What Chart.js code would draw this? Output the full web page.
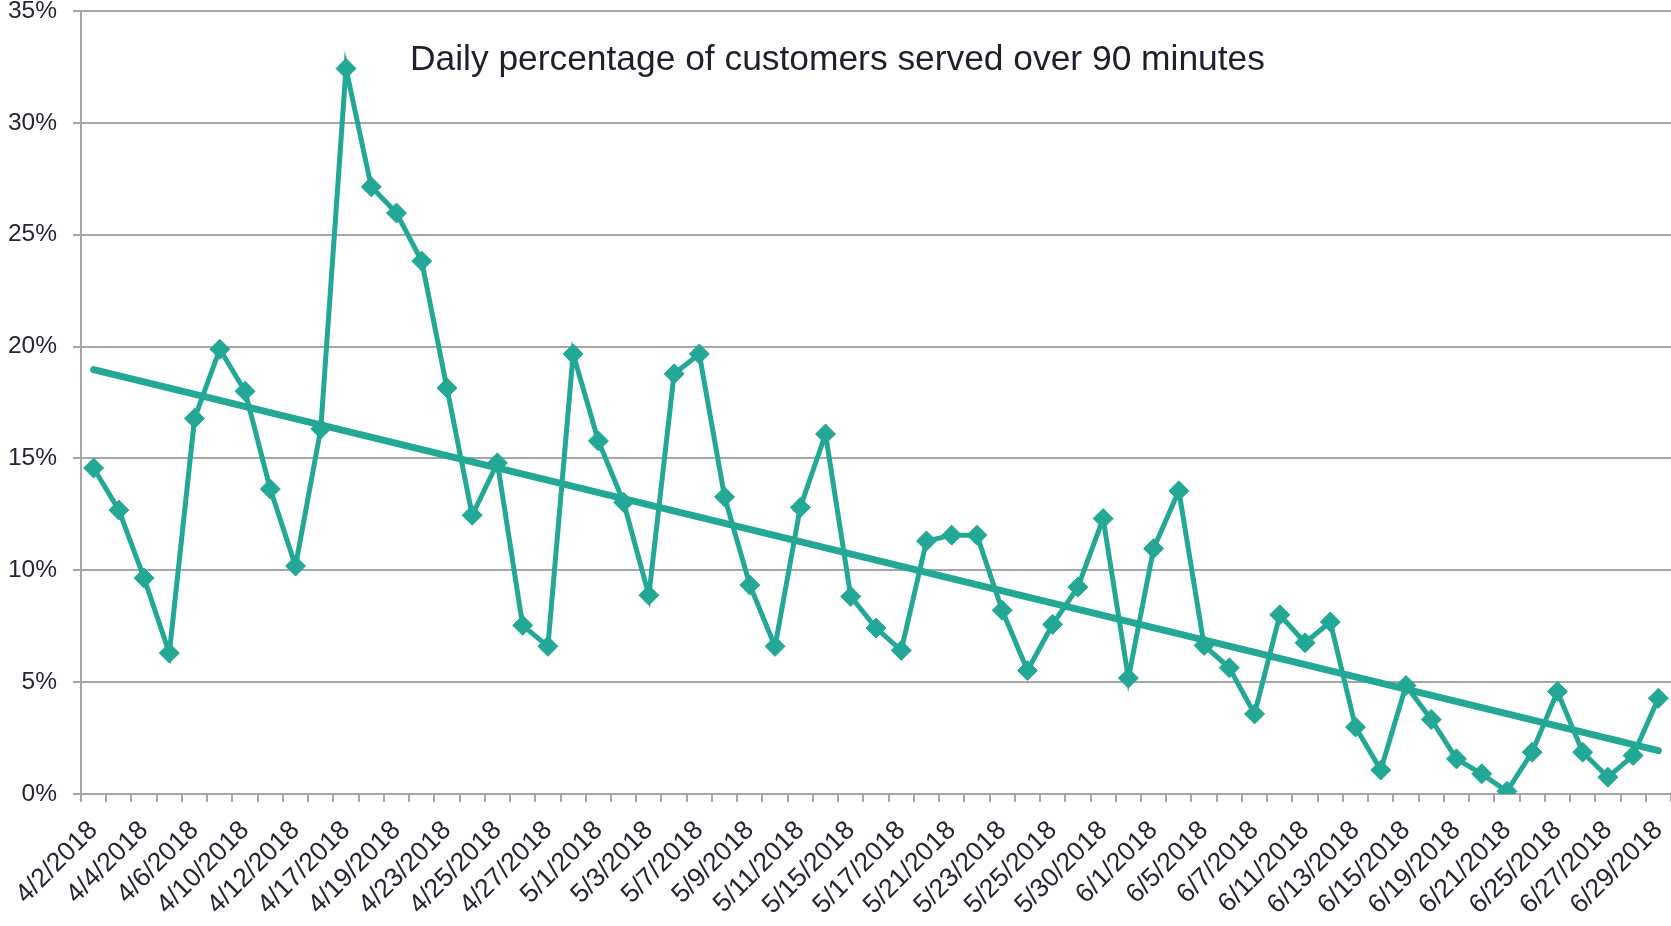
<!DOCTYPE html>
<html>
<head>
<meta charset="utf-8">
<script src="https://cdn.jsdelivr.net/npm/chart.js@4.4.1/dist/chart.umd.min.js"></script>
<style>
html,body{margin:0;padding:0;background:#ffffff;overflow:hidden}
#wrap{position:relative;width:1671px;height:926px}
</style>
</head>
<body>
<div id="wrap"><canvas id="c" width="1671" height="926"></canvas></div>
<script>
// ---- data ----
const categories = [
  "4/2/2018","4/3/2018","4/4/2018","4/5/2018","4/6/2018","4/9/2018","4/10/2018","4/11/2018","4/12/2018","4/13/2018",
  "4/17/2018","4/18/2018","4/19/2018","4/20/2018","4/23/2018","4/24/2018","4/25/2018","4/26/2018","4/27/2018","4/30/2018",
  "5/1/2018","5/2/2018","5/3/2018","5/4/2018","5/7/2018","5/8/2018","5/9/2018","5/10/2018","5/11/2018","5/14/2018",
  "5/15/2018","5/16/2018","5/17/2018","5/18/2018","5/21/2018","5/22/2018","5/23/2018","5/24/2018","5/25/2018","5/29/2018",
  "5/30/2018","5/31/2018","6/1/2018","6/4/2018","6/5/2018","6/6/2018","6/7/2018","6/8/2018","6/11/2018","6/12/2018",
  "6/13/2018","6/14/2018","6/15/2018","6/18/2018","6/19/2018","6/20/2018","6/21/2018","6/22/2018","6/25/2018","6/26/2018",
  "6/27/2018","6/28/2018","6/29/2018"
];
const dailyPercent = [
  14.57,12.69,9.65,6.30,16.79,19.88,18.00,13.63,10.19,16.32,
  32.43,27.14,25.97,23.82,18.15,12.46,14.80,7.54,6.60,19.67,
  15.78,13.04,8.88,18.78,19.67,13.28,9.34,6.60,12.81,16.09,
  8.83,7.42,6.42,11.31,11.57,11.57,8.21,5.52,7.58,9.25,
  12.31,5.18,10.97,13.55,6.64,5.64,3.58,8.01,6.76,7.69,
  2.99,1.07,4.85,3.33,1.57,0.90,0.12,1.87,4.58,1.87,
  0.75,1.72,4.28
];
const trendStartEnd = [18.97, 1.94];
const yTickValues = [0, 5, 10, 15, 20, 25, 30, 35];
const titleText = "Daily percentage of customers served over 90 minutes";

// ---- styles ----
const teal = "#22a895";
const gridGray = "#a6a6a6";
const labelColor = "#262632";

const insideTitle = {
  id: "insideTitle",
  afterDraw(chart) {
    const ctx = chart.ctx;
    const a = chart.chartArea;
    ctx.save();
    ctx.font = '33px "Liberation Sans", Arial, sans-serif';
    const w = ctx.measureText(titleText).width;
    const size = 33 * 855 / w;
    ctx.font = size.toFixed(2) + 'px "Liberation Sans", Arial, sans-serif';
    ctx.fillStyle = "#1f1f2b";
    ctx.textAlign = "left";
    ctx.textBaseline = "alphabetic";
    ctx.fillText(titleText, a.left + 329, a.top + 58.5);
    ctx.restore();
  }
};

new Chart(document.getElementById("c"), {
  type: "line",
  data: {
    labels: categories,
    datasets: [
      {
        label: "Daily %",
        data: dailyPercent,
        borderColor: teal,
        backgroundColor: teal,
        borderWidth: 5,
        pointStyle: "rectRot",
        pointRadius: 10,
        pointBorderWidth: 1,
        pointBackgroundColor: teal,
        pointBorderColor: teal,
        tension: 0,
        fill: false
      },
      {
        label: "Trend",
        data: [
          { x: categories[0], y: trendStartEnd[0] },
          { x: categories[categories.length - 1], y: trendStartEnd[1] }
        ],
        borderColor: teal,
        borderWidth: 7,
        borderCapStyle: "round",
        pointRadius: 0,
        tension: 0,
        fill: false
      }
    ]
  },
  options: {
    responsive: false,
    animation: false,
    devicePixelRatio: 1,
    layout: { autoPadding: false, padding: { left: 0, right: 0, top: 11, bottom: 0 } },
    plugins: { legend: { display: false }, tooltip: { enabled: false }, title: { display: false } },
    scales: {
      x: {
        type: "category",
        offset: true,
        grid: {
          offset: true,
          drawOnChartArea: false,
          drawTicks: true,
          tickLength: 8,
          color: gridGray,
          lineWidth: 2
        },
        border: { display: true, color: gridGray, width: 2 },
        ticks: {
          autoSkip: false,
          maxRotation: 45,
          minRotation: 45,
          padding: 13,
          color: labelColor,
          font: { family: '"Liberation Sans", Arial, sans-serif', size: 26.5 },
          callback: function (value, index) {
            return index % 2 === 0 ? categories[index] : "";
          }
        },
        afterFit(scale) { scale.height = 132; scale.paddingLeft = 0; scale.paddingRight = 0; }
      },
      y: {
        min: 0,
        max: 35,
        afterBuildTicks(scale) { scale.ticks = yTickValues.map(v => ({ value: v })); },
        grid: { color: gridGray, lineWidth: 2, tickLength: 8, drawTicks: true },
        border: { display: true, color: gridGray, width: 2 },
        ticks: {
          padding: 16,
          color: labelColor,
          font: { family: '"Liberation Sans", Arial, sans-serif', size: 24.5 },
          callback: v => v + "%"
        },
        afterFit(scale) { scale.width = 81; scale.paddingTop = 0; scale.paddingBottom = 0; }
      }
    }
  },
  plugins: [insideTitle]
});
</script>
</body>
</html>
